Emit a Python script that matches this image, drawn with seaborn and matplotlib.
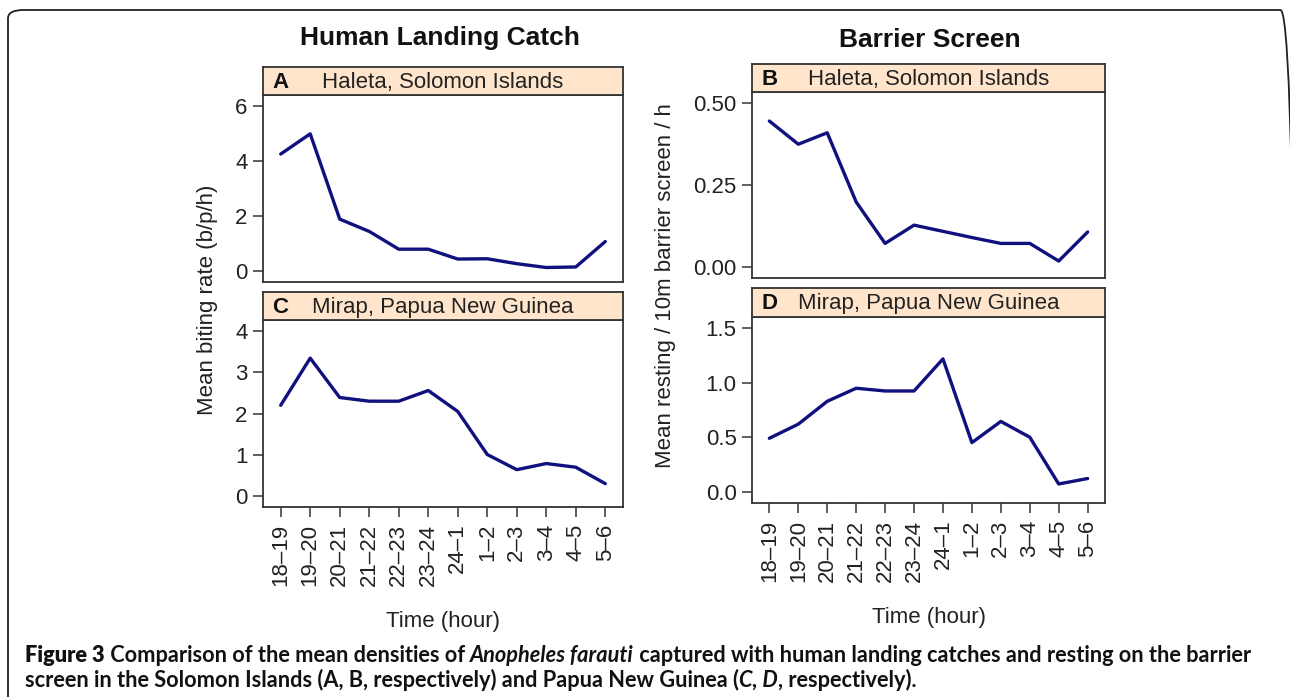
import numpy as np
import matplotlib
matplotlib.use("Agg")
import matplotlib.pyplot as plt
import pandas as pd
import seaborn as sns
from matplotlib.patches import FancyBboxPatch
from matplotlib.text import Annotation

# data
hours = ["18–19", "19–20", "20–21", "21–22", "22–23", "23–24",
         "24–1", "1–2", "2–3", "3–4", "4–5", "5–6"]
hlc_haleta = [4.26, 5.0, 1.88, 1.43, 0.78, 0.78, 0.42, 0.43, 0.25, 0.11, 0.13, 1.06]
hlc_mirap = [2.2, 3.35, 2.39, 2.30, 2.30, 2.56, 2.05, 1.0, 0.63, 0.78, 0.69, 0.29]
bs_haleta = [0.446, 0.375, 0.41, 0.198, 0.071, 0.127, 0.108, 0.089, 0.071, 0.071, 0.017, 0.106]
bs_mirap = [0.49, 0.62, 0.83, 0.95, 0.925, 0.925, 1.22, 0.45, 0.645, 0.50, 0.07, 0.12]

sns.set_style("ticks")
plt.rcParams['font.family'] = ['Liberation Sans', 'DejaVu Sans']

W, H = 1290, 697
fig = plt.figure(figsize=(W / 100, H / 100), dpi=100)
fig.patch.set_facecolor("white")


def box(l, t, r, b):
    return [l / W, 1 - b / H, (r - l) / W, (b - t) / H]


line_col = "#10107e"
frame_col = "#333333"
strip_col = "#ffe5cc"

panels = [
    # letter, place, values, ylim top, yticks, fmt, strip box, axes box, bottom row
    ("A", "Haleta, Solomon Islands", hlc_haleta, 6, [0, 2, 4, 6], "{:.0f}",
     (263, 67, 623, 95), (263, 95, 623, 282), False),
    ("C", "Mirap, Papua New Guinea", hlc_mirap, 4, [0, 1, 2, 3, 4], "{:.0f}",
     (263, 292, 623, 320), (263, 320, 623, 507), True),
    ("B", "Haleta, Solomon Islands", bs_haleta, 0.5, [0, 0.25, 0.5], "{:.2f}",
     (752, 64, 1105, 92), (752, 92, 1105, 278), False),
    ("D", "Mirap, Papua New Guinea", bs_mirap, 1.5, [0, 0.5, 1.0, 1.5], "{:.1f}",
     (752, 288, 1105, 317), (752, 317, 1105, 503), True),
]

for letter, place, vals, top, yt, fmt, sbox, abox, bottom in panels:
    ax = fig.add_axes(box(*abox))
    df = pd.DataFrame({"pos": np.arange(len(hours)), "value": vals})
    sns.lineplot(data=df, x="pos", y="value", ax=ax, color=line_col,
                 linewidth=2.4, sort=False)
    ax.set_xlim(-0.6, len(hours) - 0.4)
    ax.set_ylim(-0.07 * top, 1.07 * top)
    ax.set_yticks(yt)
    ax.set_yticklabels([fmt.format(v) for v in yt])
    ax.set_ylabel("")
    for s in ax.spines.values():
        s.set_visible(True)
        s.set_color(frame_col)
        s.set_linewidth(1.3)
    ax.tick_params(axis="y", length=7, width=1.1, color=frame_col,
                   labelsize=16, labelcolor="#222222", pad=4)
    if bottom:
        ax.set_xticks(np.arange(len(hours)))
        ax.set_xticklabels(hours, rotation=90, va="top")
        ax.tick_params(axis="x", length=7, width=1.1, color=frame_col,
                       labelsize=16, labelcolor="#222222", pad=5)
        ax.set_xlabel("Time (hour)", fontsize=16, color="#222222", labelpad=18)
    else:
        ax.set_xticks([])
        ax.set_xlabel("")

    sax = fig.add_axes(box(*sbox))
    sax.set_facecolor(strip_col)
    sax.set_xticks([])
    sax.set_yticks([])
    for s in sax.spines.values():
        s.set_visible(True)
        s.set_color(frame_col)
        s.set_linewidth(1.3)
    sax.text(0.026, 0.45, letter, transform=sax.transAxes, fontsize=16,
             fontweight="bold", ha="left", va="center", color="#111111")
    sax.text(0.5, 0.45, place, transform=sax.transAxes, fontsize=16,
             ha="center", va="center", color="#222222")

fig.text(440 / W, 1 - 38 / H, "Human Landing Catch", fontsize=19,
         fontweight="bold", ha="center", va="center", color="#111111")
fig.text(930 / W, 1 - 40 / H, "Barrier Screen", fontsize=19,
         fontweight="bold", ha="center", va="center", color="#111111")
fig.text(207 / W, 1 - 300 / H, "Mean biting rate (b/p/h)", fontsize=16,
         rotation=90, ha="center", va="center", color="#222222")
fig.text(665 / W, 1 - 286 / H, "Mean resting / 10m barrier screen / h",
         fontsize=16, rotation=90, ha="center", va="center", color="#222222")

# caption
cap_font = ['Lato', 'Liberation Sans', 'DejaVu Sans']
cap_size = 15.7
cap_col = "#111111"
line1 = [("Figure 3", "heavy", "normal"),
         (" Comparison of the mean densities of ", "bold", "normal"),
         ("Anopheles farauti", "bold", "italic"),
         (" captured with human landing catches and resting on the barrier", "bold", "normal")]
line2 = [("screen in the Solomon Islands (A, B, respectively) and Papua New Guinea (", "bold", "normal"),
         ("C, D", "bold", "italic"),
         (", respectively).", "bold", "normal")]
for y, parts in [(662, line1), (687, line2)]:
    prev = None
    for txt, wt, st in parts:
        if prev is None:
            prev = fig.text(25 / W, 1 - y / H, txt, fontsize=cap_size,
                            fontweight=wt, fontstyle=st, family=cap_font,
                            color=cap_col, va="baseline", ha="left")
        else:
            a = Annotation(txt, xy=(1, 0), xycoords=prev, va="bottom",
                           ha="left", fontsize=cap_size, fontweight=wt,
                           fontstyle=st, family=cap_font, color=cap_col)
            fig.add_artist(a)
            prev = a

# outer rounded frame, running off the right and bottom edges
frame = FancyBboxPatch((8 / W, -0.1), 1288 / W, 1.1 - 10 / H,
                       boxstyle="round,pad=0,rounding_size=0.012",
                       transform=fig.transFigure, facecolor="none",
                       edgecolor="#222222", linewidth=1.3, clip_on=False)
fig.add_artist(frame)

fig.savefig("out.png", dpi=100)
